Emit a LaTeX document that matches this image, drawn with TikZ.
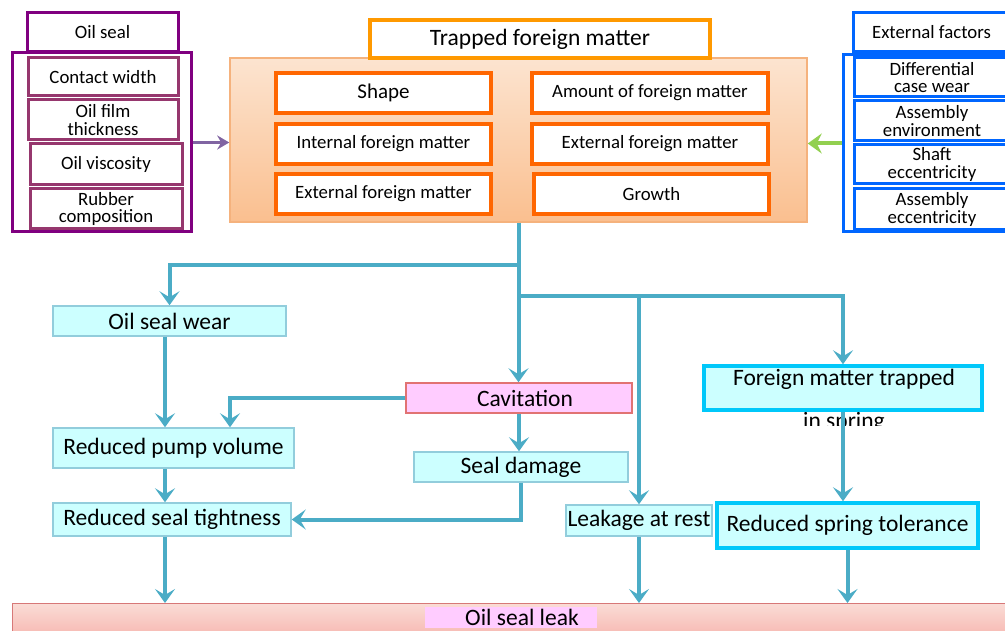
\documentclass[tikz,border=0pt]{standalone}
\usepackage{fontspec}
\setmainfont{Carlito}
\usepackage{tikz}
\usetikzlibrary{positioning, arrows.meta}

\definecolor{sealpurple}{RGB}{128,0,128}
\definecolor{sealplum}{RGB}{150,55,110}
\definecolor{trapedge}{RGB}{255,102,0}
\definecolor{titleedge}{RGB}{255,153,0}
\definecolor{peachtop}{RGB}{252,228,208}
\definecolor{peachbottom}{RGB}{250,191,143}
\definecolor{peachedge}{RGB}{245,178,125}
\definecolor{factorblue}{RGB}{0,102,255}
\definecolor{flowblue}{RGB}{75,172,198}
\definecolor{stepfill}{RGB}{204,255,255}
\definecolor{stepedge}{RGB}{146,205,220}
\definecolor{springedge}{RGB}{0,200,250}
\definecolor{cavfill}{RGB}{255,204,255}
\definecolor{cavedge}{RGB}{225,115,115}
\definecolor{leaktop}{RGB}{250,220,214}
\definecolor{leakbottom}{RGB}{245,165,158}
\definecolor{leakedge}{RGB}{215,120,120}
\definecolor{purplearrow}{RGB}{128,100,162}
\definecolor{greenarrow}{RGB}{146,208,80}

\tikzset{
  small/.style={font=\fontsize{18.8}{17.5}\selectfont, align=center},
  big/.style={font=\fontsize{23.5}{26}\selectfont},
  boxsize/.style 2 args={rectangle, inner sep=0pt, minimum width=#1, minimum height=#2},
  sealbox/.style={small, draw=sealpurple, line width=3pt, fill=white},
  plumbox/.style={small, draw=sealplum, line width=3pt, fill=white},
  factorbox/.style={small, draw=factorblue, line width=3pt, fill=white},
  trapbox/.style={small, draw=trapedge, line width=3.5pt, fill=white},
  stepbox/.style={big, draw=stepedge, line width=1.5pt, fill=stepfill},
  springbox/.style={big, draw=springedge, line width=3.5pt, fill=stepfill},
  flow/.style={draw=flowblue, line width=4pt, -{Stealth[length=14pt, width=20pt, inset=6pt]}}
}

\begin{document}
\begin{tikzpicture}[x=1pt, y=-1pt]
  \useasboundingbox (0,0) rectangle (1005,631);

  % oil seal group on the left
  \node[sealbox, boxsize={151}{39}] (oilseal) at (102.5,32.5) {Oil seal};
  \node[sealbox, boxsize={179}{179}] (sealframe) at (101.5,142.5) {};
  \node[plumbox, boxsize={150}{38}] (contact) at (103,77) {Contact width};
  \node[plumbox, boxsize={150}{40}] (filmthick) at (103,120) {Oil film\\thickness};
  \node[plumbox, boxsize={152}{41}] (viscosity) at (106,164.5) {Oil viscosity};
  \node[plumbox, boxsize={152}{40}] (rubber) at (106,209) {Rubber\\composition};

  % trapped foreign matter in the middle
  \node[boxsize={577}{164}, draw=peachedge, line width=1.5pt,
        top color=peachtop, bottom color=peachbottom] (matter) at (518.5,140) {};
  \node[big, boxsize={340}{38}, draw=titleedge, line width=4pt, fill=white]
        (title) at (540,39) {Trapped foreign matter};
  \node[trapbox, boxsize={215}{40}, font=\fontsize{21}{22}\selectfont] (shape) at (383.5,93) {Shape};
  \node[trapbox, boxsize={215}{40}] (internal) at (383.5,144) {Internal foreign matter};
  \node[trapbox, boxsize={215}{40}] (externall) at (383.5,194) {External foreign matter};
  \node[trapbox, boxsize={236}{40}] (amount) at (650,93) {Amount of foreign matter};
  \node[trapbox, boxsize={236}{40}] (externalr) at (650,144) {External foreign matter};
  \node[trapbox, boxsize={235}{40}] (growth) at (651.5,194) {Growth};

  % external factors on the right
  \node[factorbox, boxsize={157}{39}] (factors) at (931.5,32.5) {External factors};
  \node[factorbox, boxsize={169}{177}] (factorframe) at (927.5,143.5) {};
  \node[factorbox, boxsize={156}{39}] (diffwear) at (932,77.5) {Differential\\case wear};
  \node[factorbox, boxsize={156}{40}] (assyenv) at (932,121) {Assembly\\environment};
  \node[factorbox, boxsize={156}{39}] (shaft) at (932,164.5) {Shaft\\eccentricity};
  \node[factorbox, boxsize={156}{41}] (assyecc) at (932,209.5) {Assembly\\eccentricity};

  % failure chain
  \node[stepbox, boxsize={233}{30}] (wear) at (169.5,321) {Oil seal wear};
  \node[big, boxsize={226}{30}, draw=cavedge, line width=1.5pt, fill=cavfill]
        (cavitation) at (519,398) {\hspace*{12pt}Cavitation};
  \node[stepbox, boxsize={241}{40}] (pump) at (173.5,448) {Reduced pump volume};
  \node[stepbox, boxsize={214}{30}] (damage) at (521,467) {Seal damage};
  \node[stepbox, boxsize={238}{33}] (tightness) at (172,519.5) {Reduced seal tightness};
  \node[stepbox, boxsize={146}{31}] (rest) at (639,520.5) {Leakage at rest};
  \node[springbox, boxsize={278}{44}] (spring) at (843,388) {};
  \node[big] (springtext) at (844,379) {Foreign matter trapped};
  \begin{scope}
    \clip (700,412) rectangle (990,425);
    \node[big, anchor=base] (springmore) at (844,428) {in spring};
  \end{scope}
  \node[springbox, boxsize={261}{45}] (tolerance) at (847.5,525.5) {Reduced spring tolerance};

  % oil seal leak bar
  \node[boxsize={1010}{50}, anchor=north west, draw=leakedge, line width=1pt,
        top color=leaktop, bottom color=leakbottom] (leak) at (12,603) {};
  \node[boxsize={172}{21}, fill=cavfill] (leakpatch) at (511,617.5) {};
  \node[big] (leaktext) at (522,617) {Oil seal leak};

  % columns and split points of the connectors
  \coordinate (leftcol) at (165,0);
  \coordinate (pumpin) at (230,0);
  \coordinate (split1) at (518.5,265);
  \coordinate (split2) at (518.5,296);

  % arrows into the foreign matter box
  \draw[purplearrow, line width=3pt, -{Stealth[length=12pt, width=14pt]}]
    (sealframe.east) -- (sealframe.east -| matter.west);
  \draw[greenarrow, line width=4pt, -{Stealth[length=14pt, width=20pt, inset=5pt]}]
    (factorframe.west) -- (factorframe.west -| matter.east);

  % connectors of the failure chain
  \draw[flow] (matter.south) -- (matter.south |- cavitation.north);
  \draw[flow] (split1) -| (wear.north);
  \draw[flow] (split2) -| (spring.north);
  \draw[flow] (split2 -| rest.north) -- (rest.north);
  \draw[flow] (wear.south -| leftcol) -- (pump.north -| leftcol);
  \draw[flow] (cavitation.west) -| (pumpin |- pump.north);
  \draw[flow] (pump.south -| leftcol) -- (tightness.north -| leftcol);
  \draw[flow] (cavitation.south) -- (cavitation.south |- damage.north);
  \draw[flow] (damage.south) |- (tightness.east);
  \draw[flow] (tightness.south -| leftcol) -- (leak.north -| leftcol);
  \draw[flow] (rest.south) -- (rest.south |- leak.north);
  \draw[flow] (spring.south) -- (spring.south |- tolerance.north);
  \draw[flow] (tolerance.south) -- (tolerance.south |- leak.north);
\end{tikzpicture}
\end{document}
